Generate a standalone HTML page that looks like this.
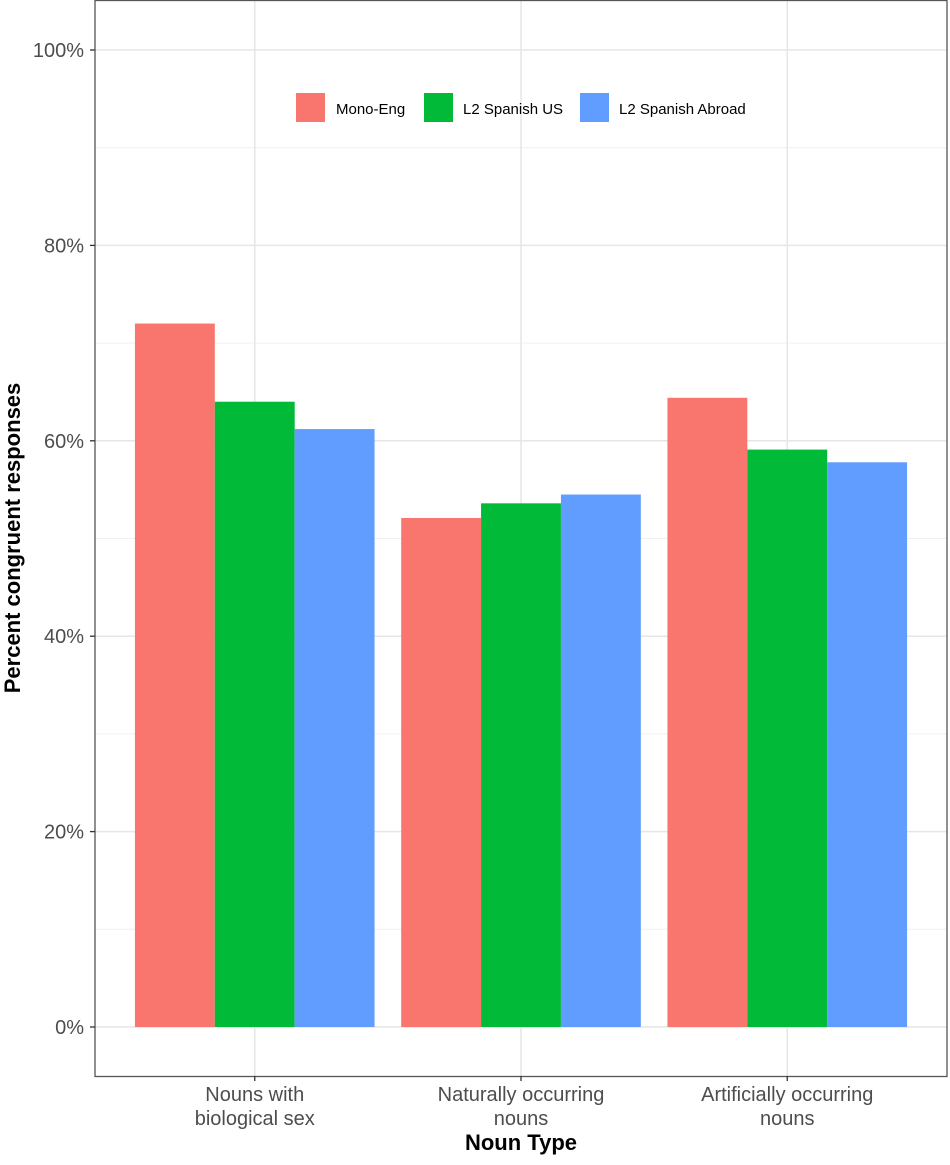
<!DOCTYPE html>
<html><head><meta charset="utf-8"><style>
body{margin:0;background:#fff;}
svg text{font-family:"Liberation Sans",Arial,sans-serif;}
</style></head><body>
<svg id="chart" width="950" height="1160" xmlns="http://www.w3.org/2000/svg">
<rect width="950" height="1160" fill="#fff"/>
<g id="grid"></g>
<g id="bars"></g>
<rect x="95" y="0.5" width="852" height="1076" fill="none" stroke="#555" stroke-width="1.3"/>
<g id="axes"></g>
<text x="20" y="538" transform="rotate(-90 20 538)" text-anchor="middle" font-size="22" font-weight="bold" fill="#000">Percent congruent responses</text>
<text x="521" y="1150" text-anchor="middle" font-size="22" font-weight="bold" fill="#000">Noun Type</text>
<g>
<rect x="296" y="93" width="29" height="29" fill="#F8766D"/>
<text x="336" y="114" font-size="15" fill="#000">Mono-Eng</text>
<rect x="424" y="93" width="29" height="29" fill="#00BA38"/>
<text x="463" y="114" font-size="15" fill="#000">L2 Spanish US</text>
<rect x="580" y="93" width="29" height="29" fill="#619CFF"/>
<text x="619" y="114" font-size="15" fill="#000">L2 Spanish Abroad</text>
</g>
</svg>
<script>
const categories = [["Nouns with","biological sex"],["Naturally occurring","nouns"],["Artificially occurring","nouns"]];
const seriesNames = ["Mono-Eng","L2 Spanish US","L2 Spanish Abroad"];
const monoEng = [72.0, 52.1, 64.4];
const l2SpanishUS = [64.0, 53.6, 59.1];
const l2SpanishAbroad = [61.2, 54.5, 57.8];
const yTicks = [0,20,40,60,80,100];
const yTickLabels = ["0%","20%","40%","60%","80%","100%"];

const colors = ["#F8766D","#00BA38","#619CFF"];
const series = [monoEng,l2SpanishUS,l2SpanishAbroad];
const NS="http://www.w3.org/2000/svg";
const x0=95, x1=947, unit=(x1-x0)/3.2;
const y = v => 1027 - v*9.77;
const xc = i => x0 + (0.6+i)*unit;
const barW = unit*0.9/3;
function mk(tag, attrs, parent){const e=document.createElementNS(NS,tag);for(const k in attrs)e.setAttribute(k,attrs[k]);parent.appendChild(e);return e;}
const grid=document.getElementById('grid'), bars=document.getElementById('bars'), axes=document.getElementById('axes');
for(let i=0;i<yTicks.length-1;i++){
  const v=(yTicks[i]+yTicks[i+1])/2;
  const l=mk('line',{x1:x0,x2:x1,y1:y(v),y2:y(v),stroke:'#f0f0f0','stroke-width':1},grid);
  
  
}
yTicks.forEach((v,i)=>{
  const l=mk('line',{x1:x0,x2:x1,y1:y(v),y2:y(v),stroke:'#e6e6e6','stroke-width':1.5},grid);
  
  
  const t=mk('line',{x1:x0-5,x2:x0,y1:y(v),y2:y(v),stroke:'#333','stroke-width':1.3},axes);
  
  
  const tx=mk('text',{x:x0-11,y:y(v)+7,'text-anchor':'end','font-size':20,fill:'#4d4d4d'},axes);
  tx.textContent=yTickLabels[i];
  
  
});
categories.forEach((c,i)=>{
  const l=mk('line',{x1:xc(i),x2:xc(i),y1:0,y2:1076,stroke:'#e6e6e6','stroke-width':1.5},grid);
  
  
  const t=mk('line',{x1:xc(i),x2:xc(i),y1:1076,y2:1081,stroke:'#333','stroke-width':1.3},axes);
  
  
  c.forEach((line,j)=>{
    const tx=mk('text',{x:xc(i),y:1101+j*24,'text-anchor':'middle','font-size':20,fill:'#4d4d4d'},axes);
    tx.textContent=line;
    
    
  });
  series.forEach((s,k)=>{
    const bx=xc(i)-1.5*barW+k*barW;
    const r=mk('rect',{x:bx,y:y(s[i]),width:barW,height:y(0)-y(s[i]),fill:colors[k]},bars);
    
    
  });
});
</script>
</body></html>
